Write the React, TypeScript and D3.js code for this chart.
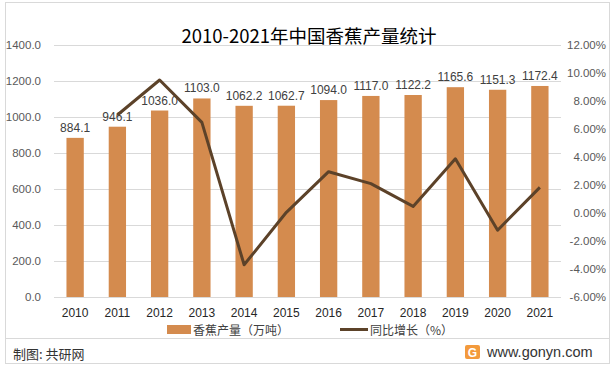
import React, { useEffect, useRef } from 'react';
import * as d3 from 'd3';

const years = ['2010', '2011', '2012', '2013', '2014', '2015', '2016', '2017', '2018', '2019', '2020', '2021'];
const output = [884.1, 946.1, 1036.0, 1103.0, 1062.2, 1062.7, 1094.0, 1117.0, 1122.2, 1165.6, 1151.3, 1172.4];
// growth rate (%), no value for 2010
const growth = [null, 7.0, 9.5, 6.47, -3.7, 0.05, 2.95, 2.1, 0.47, 3.87, -1.23, 1.83];
const leftTicks = [0, 200, 400, 600, 800, 1000, 1200, 1400];
const rightTicks = [-6, -4, -2, 0, 2, 4, 6, 8, 10, 12];

const BAR = '#D48B4E';
const LINE = '#5C4229';
const NUM_FONT = '"Liberation Sans", Arial, sans-serif';
const CJK_FONT = '"Noto Sans CJK SC", sans-serif';

export default function App() {
  const svgRef = useRef<SVGSVGElement>(null);

  useEffect(() => {
    if (!svgRef.current) return;
    const width = 614;
    const height = 371;
    const svg = d3.select(svgRef.current);
    svg.selectAll('*').remove();

    svg.append('rect').attr('width', width).attr('height', height).attr('fill', '#fff');
    // outer frame
    svg.append('rect')
      .attr('x', 5.5).attr('y', 2.5).attr('width', 604).attr('height', 361)
      .attr('fill', 'none').attr('stroke', '#d9d9d9');

    const x0 = 54, x1 = 561, yTop = 45, yBot = 297;

    const x = d3.scaleBand().domain(years).range([x0, x1]).paddingInner(0.59).paddingOuter(0.295);
    const yL = d3.scaleLinear().domain([0, 1400]).range([yBot, yTop]);
    const yR = d3.scaleLinear().domain([-6, 12]).range([yBot, yTop]);

    // title
    svg.append('text')
      .attr('x', 309).attr('y', 43)
      .attr('text-anchor', 'middle')
      .attr('font-family', CJK_FONT)
      .attr('font-size', 18.5)
      .attr('fill', '#000')
      .text('2010-2021年中国香蕉产量统计');

    // gridlines
    svg.append('g')
      .selectAll('line')
      .data(leftTicks)
      .enter().append('line')
      .attr('x1', x0).attr('x2', x1)
      .attr('y1', d => Math.round(yL(d)) + 0.5)
      .attr('y2', d => Math.round(yL(d)) + 0.5)
      .attr('stroke', '#d9d9d9');

    // left axis labels
    svg.append('g')
      .selectAll('text')
      .data(leftTicks)
      .enter().append('text')
      .attr('x', 41).attr('y', d => yL(d) + 4)
      .attr('text-anchor', 'end')
      .attr('font-family', NUM_FONT).attr('font-size', 11.5)
      .attr('fill', '#595959')
      .text(d => d.toFixed(1));

    // right axis labels
    svg.append('g')
      .selectAll('text')
      .data(rightTicks)
      .enter().append('text')
      .attr('x', 606).attr('y', d => yR(d) + 4)
      .attr('text-anchor', 'end')
      .attr('font-family', NUM_FONT).attr('font-size', 11.5)
      .attr('fill', '#595959')
      .text(d => d.toFixed(2) + '%');

    // bars
    svg.append('g')
      .selectAll('rect')
      .data(output)
      .enter().append('rect')
      .attr('x', (d, i) => x(years[i])!)
      .attr('width', x.bandwidth())
      .attr('y', d => yL(d))
      .attr('height', d => yL(0) - yL(d))
      .attr('fill', BAR);

    // bar value labels
    svg.append('g')
      .selectAll('text')
      .data(output)
      .enter().append('text')
      .attr('x', (d, i) => x(years[i])! + x.bandwidth() / 2)
      .attr('y', d => yL(d) - 6)
      .attr('text-anchor', 'middle')
      .attr('font-family', NUM_FONT).attr('font-size', 12)
      .attr('fill', '#404040')
      .text(d => d.toFixed(1));

    // growth line
    const pts = growth
      .map((g, i) => ({ g, year: years[i] }))
      .filter(d => d.g !== null) as { g: number; year: string }[];
    const line = d3.line<{ g: number; year: string }>()
      .x(d => x(d.year)! + x.bandwidth() / 2)
      .y(d => yR(d.g));
    svg.append('path')
      .datum(pts)
      .attr('fill', 'none')
      .attr('stroke', LINE)
      .attr('stroke-width', 3)
      .attr('stroke-linejoin', 'round')
      .attr('d', line);

    // x axis labels
    svg.append('g')
      .selectAll('text')
      .data(years)
      .enter().append('text')
      .attr('x', d => x(d)! + x.bandwidth() / 2)
      .attr('y', 317)
      .attr('text-anchor', 'middle')
      .attr('font-family', NUM_FONT).attr('font-size', 12)
      .attr('fill', '#262626')
      .text(d => d);

    // legend
    const lg = svg.append('g');
    lg.append('rect').attr('x', 167).attr('y', 325).attr('width', 24).attr('height', 9).attr('fill', BAR);
    lg.append('text').attr('x', 193).attr('y', 335)
      .attr('font-family', CJK_FONT).attr('font-size', 12).attr('fill', '#404040')
      .text('香蕉产量（万吨）');
    lg.append('line').attr('x1', 340).attr('x2', 368).attr('y1', 329.5).attr('y2', 329.5)
      .attr('stroke', LINE).attr('stroke-width', 3);
    lg.append('text').attr('x', 370).attr('y', 335)
      .attr('font-family', CJK_FONT).attr('font-size', 12).attr('fill', '#404040')
      .text('同比增长（%）');

    // footer
    svg.append('line').attr('x1', 6).attr('x2', 609).attr('y1', 338.5).attr('y2', 338.5)
      .attr('stroke', '#d9d9d9');
    svg.append('text').attr('x', 13).attr('y', 359)
      .attr('font-family', CJK_FONT).attr('font-size', 13).attr('fill', '#333')
      .text('制图: 共研网');

    const logo = svg.append('g').attr('transform', 'translate(465,345)');
    logo.append('rect').attr('width', 15).attr('height', 14).attr('rx', 2).attr('fill', '#F39A3C');
    logo.append('text').attr('x', 7.5).attr('y', 11.5).attr('text-anchor', 'middle')
      .attr('font-family', NUM_FONT).attr('font-weight', 'bold').attr('font-size', 12).attr('fill', '#fff')
      .text('G');
    svg.append('text').attr('x', 487).attr('y', 357)
      .attr('font-family', NUM_FONT).attr('font-size', 14.5).attr('fill', '#333')
      .text('www.gonyn.com');
  }, []);

  return (
    <div style={{ position: 'absolute', left: 0, top: 0 }}>
      <svg ref={svgRef} width={614} height={371} style={{ display: 'block' }} />
    </div>
  );
}
